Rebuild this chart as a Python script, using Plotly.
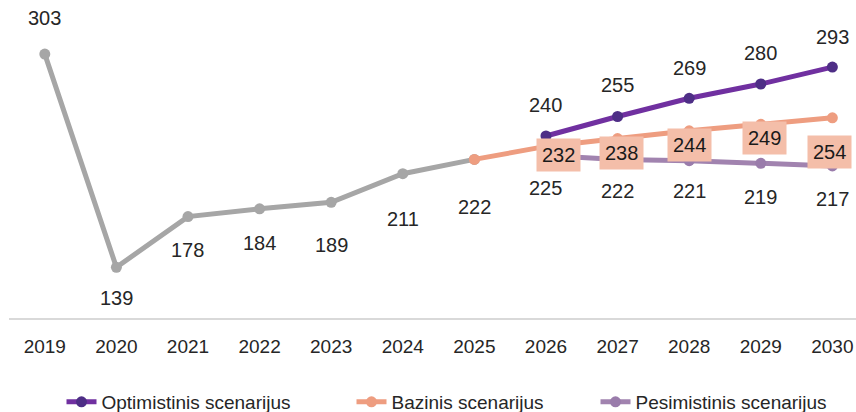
import plotly.graph_objects as go

years = ["2019", "2020", "2021", "2022", "2023", "2024", "2025",
         "2026", "2027", "2028", "2029", "2030"]
hist_years = years[:7]
hist_vals = [303, 139, 178, 184, 189, 211, 222]
opt_years = years[7:]
opt_vals = [240, 255, 269, 280, 293]
base_years = years[6:]
base_vals = [222, 232, 238, 244, 249, 254]
pes_years = years[7:]
pes_vals = [225, 222, 221, 219, 217]

series_names = ["Optimistinis scenarijus", "Bazinis scenarijus", "Pesimistinis scenarijus"]

# label offsets (pixels) – styling only
hist_shift = [36, -31, -33, -34, -43, -45, -48]
opt_shift = [31, 31, 30, 31, 30]
pes_shift = [-33, -32, -30, -34, -33]
base_xshift = [13, 4, 0, 4, -3]
base_yshift = [-9, -14, -14, -14, -34]

FONT = "Liberation Sans"
TXT = "#262626"
ML, MR, MT, MB = 9, 0, 0, 94
W, H = 856, 412
PW = W - ML - MR
PH = H - MT - MB

def idx(y):
    return years.index(y)

fig = go.Figure()
fig.add_trace(go.Scatter(x=hist_years, y=hist_vals, mode="lines+markers",
                         line=dict(color="#A6A6A6", width=5),
                         marker=dict(color="#A6A6A6", size=11),
                         showlegend=False, hoverinfo="skip"))
fig.add_trace(go.Scatter(x=opt_years, y=opt_vals, mode="lines+markers", name=series_names[0],
                         line=dict(color="#7030A0", width=5),
                         marker=dict(color="#4E2E86", size=11), legend="legend"))
fig.add_trace(go.Scatter(x=base_years, y=base_vals, mode="lines+markers", name=series_names[1],
                         line=dict(color="#EE9D80", width=5),
                         marker=dict(color="#EE9D80", size=11), legend="legend2"))
fig.add_trace(go.Scatter(x=pes_years, y=pes_vals, mode="lines+markers", name=series_names[2],
                         line=dict(color="#A183AF", width=5),
                         marker=dict(color="#9A7CAB", size=11), legend="legend3"))

ann = []
for x, v, s in zip(hist_years, hist_vals, hist_shift):
    ann.append(dict(x=idx(x), y=v, text=str(v), showarrow=False, yshift=s,
                    font=dict(size=20, color=TXT, family=FONT)))
for x, v, s in zip(opt_years, opt_vals, opt_shift):
    ann.append(dict(x=idx(x), y=v, text=str(v), showarrow=False, yshift=s,
                    font=dict(size=20, color=TXT, family=FONT)))
for x, v, s in zip(pes_years, pes_vals, pes_shift):
    ann.append(dict(x=idx(x), y=v, text=str(v), showarrow=False, yshift=s,
                    font=dict(size=20, color=TXT, family=FONT)))
for x, v, xs, ys in zip(base_years[1:], base_vals[1:], base_xshift, base_yshift):
    ann.append(dict(x=idx(x), y=v, text=str(v), showarrow=False, xshift=xs, yshift=ys,
                    bgcolor="#F4BEA9", borderpad=5,
                    font=dict(size=20, color="#1a1a1a", family=FONT)))

def lx(px):
    return (px - ML) / PW

leg_y = -(402 - (H - MB)) / PH
leg_common = dict(orientation="h", y=leg_y, yanchor="middle", xanchor="left",
                  font=dict(size=19, color=TXT, family=FONT), bgcolor="rgba(0,0,0,0)")

fig.update_layout(
    width=W, height=H,
    margin=dict(l=ML, r=MR, t=MT, b=MB, autoexpand=False),
    paper_bgcolor="white", plot_bgcolor="white",
    font=dict(family=FONT, color=TXT),
    annotations=ann,
    xaxis=dict(type="category", categoryorder="array", categoryarray=years,
               range=[-0.5, 11.33], showgrid=False, zeroline=False,
               showline=True, linecolor="#D9D9D9", linewidth=1.5,
               ticks="outside", ticklen=10, tickcolor="rgba(0,0,0,0)",
               tickfont=dict(size=19, color=TXT, family=FONT)),
    yaxis=dict(range=[100, 344.6], visible=False, showgrid=False, zeroline=False),
    legend=dict(x=lx(61.5), **leg_common),
    legend2=dict(x=lx(351.5), **leg_common),
    legend3=dict(x=lx(595.5), **leg_common),
    showlegend=True,
)
fig.write_html("out.html", config={"displayModeBar": False},
               post_script="document.body.style.margin='0';document.body.style.overflow='hidden';")
